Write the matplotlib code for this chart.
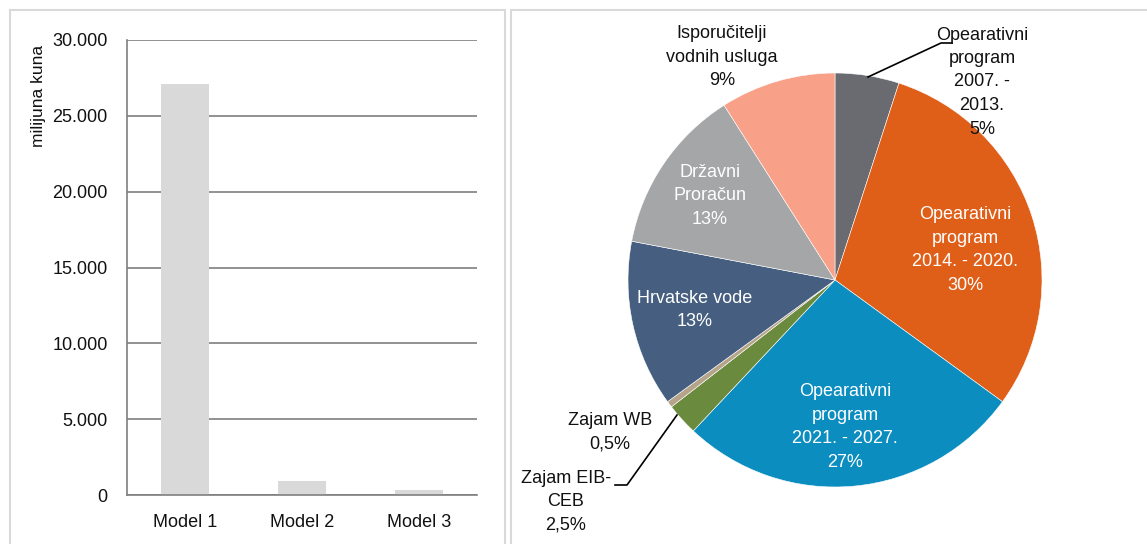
import matplotlib
matplotlib.use("Agg")
import matplotlib.pyplot as plt
from matplotlib.patches import Rectangle
import numpy as np

plt.rcParams['font.family'] = ['Liberation Sans', 'DejaVu Sans']

# bar data
models = ["Model 1", "Model 2", "Model 3"]
costs = [27100, 900, 300]
y_ticks = [0, 5000, 10000, 15000, 20000, 25000, 30000]
y_tick_labels = ["0", "5.000", "10.000", "15.000", "20.000", "25.000", "30.000"]

# pie data
sources = ["Opearativni\nprogram\n2007. -\n2013.", "Opearativni\nprogram\n2014. - 2020.",
           "Opearativni\nprogram\n2021. - 2027.", "Zajam EIB-\nCEB", "Zajam WB",
           "Hrvatske vode", "Državni\nProračun", "Isporučitelji\nvodnih usluga"]
shares = [5, 30, 27, 2.5, 0.5, 13, 13, 9]
share_labels = ["5%", "30%", "27%", "2,5%", "0,5%", "13%", "13%", "9%"]
colors = ["#6a6b70", "#df5e18", "#0b8dc0", "#6a8a3e", "#b5a48a",
          "#465f80", "#a5a6a8", "#f8a088"]

W, H = 1147, 544
fig = plt.figure(figsize=(W / 100, H / 100), dpi=100)

# panel frames
for x0, x1 in [(10, 505), (511, 1160)]:
    fig.add_artist(Rectangle((x0 / W, -0.05), (x1 - x0) / W, 1.05 - 10 / H,
                             transform=fig.transFigure, fill=False,
                             edgecolor="#d9d9d9", linewidth=1.5))

# ---- bar chart ----
ax = fig.add_axes([127 / W, 1 - 495 / H, 350 / W, 455 / H])
ax.bar(range(len(models)), costs, width=0.41, color="#d9d9d9", zorder=2)
ax.set_xlim(-0.5, 2.5)
ax.set_ylim(0, 30000)
ax.set_yticks(y_ticks)
ax.set_yticklabels(y_tick_labels)
ax.set_xticks(range(len(models)))
ax.set_xticklabels(models)
ax.yaxis.grid(True, color="#7f7f7f", linewidth=1.2, zorder=1)
ax.set_axisbelow(True)
for s in ["top", "right"]:
    ax.spines[s].set_visible(False)
for s in ["left", "bottom"]:
    ax.spines[s].set_color("#7f7f7f")
    ax.spines[s].set_linewidth(1.2)
ax.tick_params(axis="y", length=0, pad=14, labelsize=13, colors="#111111")
ax.tick_params(axis="x", length=0, pad=14, labelsize=13, colors="#111111")
fig.text(38 / W, 1 - 96 / H, "milijuna kuna", rotation=90, ha="center", va="center",
         fontsize=12.5, color="#111111")

# ---- pie chart ----
cx, cy, r = 835, 280, 207
pax = fig.add_axes([(cx - r) / W, (H - cy - r) / H, 2 * r / W, 2 * r / H])
pax.pie(shares, colors=colors, startangle=90, counterclock=False, radius=1,
        wedgeprops=dict(edgecolor="white", linewidth=0.4))
pax.set_xlim(-1, 1)
pax.set_ylim(-1, 1)
pax.set_aspect("auto")
pax.axis("off")


def px(x, y):
    return (x - cx) / r, (cy - y) / r


# label centres in pixel coords of the picture, text colour
label_pos = [(982, 82, "#111111"), (965, 250, "white"), (845, 427, "white"),
             (566, 502, "#111111"), (610, 432, "#111111"), (695, 310, "white"),
             (710, 196, "white"), (722, 57, "#111111")]
for name, pct, (lx, ly, c) in zip(sources, share_labels, label_pos):
    x, y = px(lx, ly)
    pax.text(x, y, name + "\n" + pct, ha="center", va="center", color=c,
             fontsize=13, linespacing=1.5, clip_on=False)

# leader lines
lead1 = [px(868, 77), px(941, 43), px(952, 43)]
lead2 = [px(677, 415), px(627, 485), px(615, 485)]
for pts in [lead1, lead2]:
    xs, ys = zip(*pts)
    pax.plot(xs, ys, color="black", linewidth=1.2, clip_on=False)

fig.savefig("out.png", dpi=100)
